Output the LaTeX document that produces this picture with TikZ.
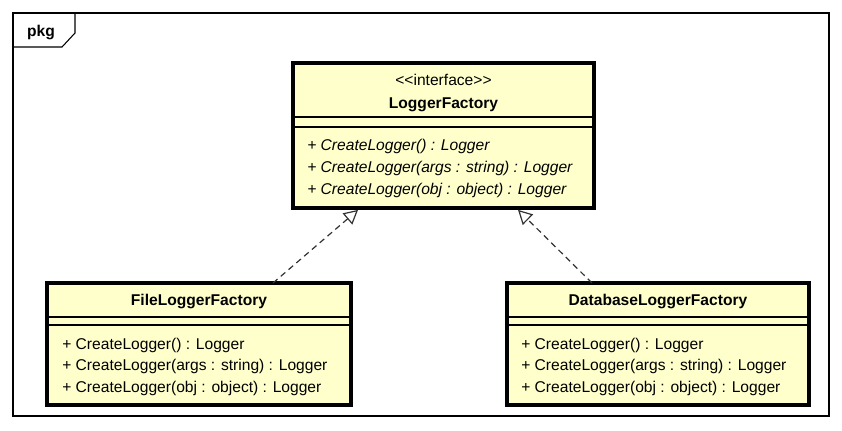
\documentclass[tikz,border=0pt]{standalone}
\usepackage{fontspec}
\setmainfont{Liberation Sans}
\usetikzlibrary{arrows.meta}
\definecolor{umlfill}{RGB}{255,255,204}
\definecolor{linkgray}{RGB}{50,50,50}
\begin{document}
\begin{tikzpicture}[x=0.75pt,y=-0.75pt,
  classbox/.style={draw=black, line width=2.6pt, fill=umlfill, inner sep=0pt, outer sep=0pt},
  divider/.style={draw=black, line width=0.9pt},
  framebox/.style={draw=black, line width=0.8pt, inner sep=0pt, outer sep=0pt},
  txt/.style={inner sep=0pt, font=\fontsize{11.7}{14}\selectfont, text height=8.6pt, text depth=2.6pt},
  ttl/.style={txt, font=\fontsize{11.7}{14}\selectfont\bfseries},
  mth/.style={txt, anchor=west},
  imth/.style={mth, font=\fontsize{11.7}{14}\selectfont\itshape},
  realize/.style={draw=linkgray, line width=0.9pt, dash pattern=on 4.5pt off 3.2pt,
    -{Triangle[open, length=10.5pt, width=11pt, line width=0.9pt, fill=white]}}
]
\useasboundingbox (0,0) rectangle (842,430);

% package frame
\node[framebox, minimum width=612pt, minimum height=302.25pt] (frame) at (421,214.5) {};
\draw[draw=black, line width=0.8pt] ([xshift=46.5pt]frame.north west) -- ++(0,20) -- ++(-13,14) -- ++(-49,0);
\node[ttl] (pkg) at (41,32) {pkg};

% interface box
\node[classbox, minimum width=225.75pt, minimum height=108.75pt] (lf) at (443.5,135.5) {};
\draw[divider] ([yshift=-40.5pt]lf.north west) -- ([yshift=-40.5pt]lf.north east);
\draw[divider] ([yshift=-48pt]lf.north west) -- ([yshift=-48pt]lf.north east);
\node[txt] (lfst) at (443.5,81) {<\kern0pt<interface>\kern0pt>};
\node[ttl] (lfname) at (443.5,104) {LoggerFactory};
\node[imth] (lfm1) at (307,146.5) {+ CreateLogger() : Logger};
\node[imth] (lfm2) at (307,168) {+ CreateLogger(args : string) : Logger};
\node[imth] (lfm3) at (307,190) {+ CreateLogger(obj : object) : Logger};

% FileLoggerFactory
\node[classbox, minimum width=228pt, minimum height=91.5pt] (fl) at (199,344) {};
\draw[divider] ([yshift=-25.5pt]fl.north west) -- ([yshift=-25.5pt]fl.north east);
\draw[divider] ([yshift=-31.5pt]fl.north west) -- ([yshift=-31.5pt]fl.north east);
\node[ttl] (flname) at (199,301.5) {FileLoggerFactory};
\node[mth] (flm1) at (62,345) {+ CreateLogger() : Logger};
\node[mth] (flm2) at (62,366.5) {+ CreateLogger(args : string) : Logger};
\node[mth] (flm3) at (62,388) {+ CreateLogger(obj : object) : Logger};

% DatabaseLoggerFactory
\node[classbox, minimum width=226.5pt, minimum height=91.5pt] (db) at (658,344) {};
\draw[divider] ([yshift=-25.5pt]db.north west) -- ([yshift=-25.5pt]db.north east);
\draw[divider] ([yshift=-31.5pt]db.north west) -- ([yshift=-31.5pt]db.north east);
\node[ttl] (dbname) at (658,301.5) {DatabaseLoggerFactory};
\node[mth] (dbm1) at (521,345) {+ CreateLogger() : Logger};
\node[mth] (dbm2) at (521,366.5) {+ CreateLogger(args : string) : Logger};
\node[mth] (dbm3) at (521,388) {+ CreateLogger(obj : object) : Logger};

% realizations
\draw[realize] ([xshift=55.5pt]fl.north) -- ([xshift=-64.1pt,yshift=-1.4pt]lf.south);
\draw[realize] ([xshift=-49.5pt]db.north) -- ([xshift=55.9pt,yshift=-1.4pt]lf.south);
\end{tikzpicture}
\end{document}
